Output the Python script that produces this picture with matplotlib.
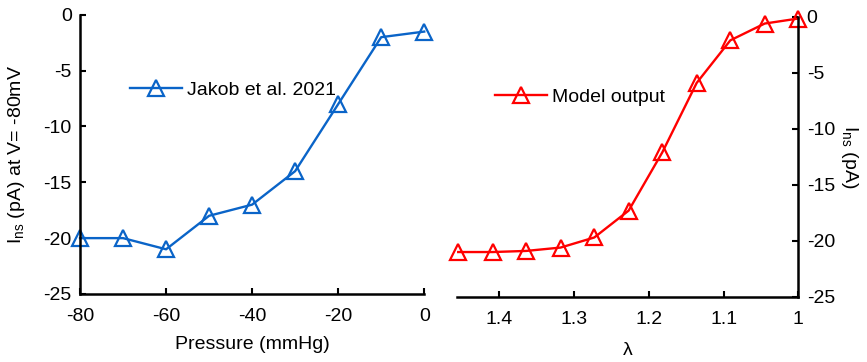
import matplotlib.pyplot as plt

plt.rcParams['font.family'] = ['Liberation Sans', 'DejaVu Sans']
plt.rcParams['font.size'] = 14
plt.rcParams['axes.unicode_minus'] = False
plt.rcParams['mathtext.fontset'] = 'custom'
plt.rcParams['mathtext.rm'] = 'Liberation Sans'
plt.rcParams['mathtext.it'] = 'Liberation Sans:italic'

# measured currents (Jakob et al. 2021)
pressure = [-80, -70, -60, -50, -40, -30, -20, -10, 0]
current_exp = [-20, -20, -21, -18, -17, -14, -8, -2, -1.5]

# model output against stretch ratio
stretch = [1.455, 1.409, 1.364, 1.318, 1.273, 1.227, 1.182, 1.136, 1.091, 1.045, 1.0]
current_model = [-21.0, -21.0, -20.9, -20.6, -19.7, -17.3, -12.1, -5.9, -2.1, -0.6, -0.15]

blue = '#0a64c8'
red = '#ff0000'

fig = plt.figure(figsize=(8.67, 3.62), dpi=100)
ax1 = fig.add_axes([0.0923, 0.188, 0.397, 0.771])
ax2 = fig.add_axes([0.5268, 0.180, 0.394, 0.7735])

line_kw = dict(marker='^', markersize=11, markerfacecolor='none',
               markeredgewidth=1.6, linewidth=1.7, clip_on=False)

ax1.plot(pressure, current_exp, color=blue, label='Jakob et al. 2021', **line_kw)
ax1.set_xlim(-80, 0)
ax1.set_ylim(-25, 0)
ax1.set_xticks([-80, -60, -40, -20, 0])
ax1.set_yticks([-25, -20, -15, -10, -5, 0])
ax1.set_xlabel('Pressure (mmHg)', labelpad=8)
ax1.set_ylabel(r'I$_{\mathrm{ns}}$ (pA) at V= -80mV', labelpad=12)
ax1.spines[['top', 'right']].set_visible(False)
ax1.legend(loc='center left', bbox_to_anchor=(0.145, 0.731), frameon=False,
           handlelength=2.7, handletextpad=0.25, borderaxespad=0, borderpad=0)

ax2.plot(stretch, current_model, color=red, label='Model output', **line_kw)
ax2.set_xlim(1.457, 1.0)
ax2.set_ylim(-25, 0)
ax2.set_xticks([1.4, 1.3, 1.2, 1.1, 1.0])
ax2.set_xticklabels(['1.4', '1.3', '1.2', '1.1', '1'])
ax2.set_yticks([-25, -20, -15, -10, -5, 0])
ax2.yaxis.tick_right()
ax2.yaxis.set_label_position('right')
ax2.set_xlabel('λ', labelpad=10)
ax2.set_ylabel(r'I$_{\mathrm{ns}}$ (pA)', rotation=270, labelpad=18)
ax2.spines[['top', 'left']].set_visible(False)
ax2.legend(loc='center left', bbox_to_anchor=(0.112, 0.713), frameon=False,
           handlelength=2.7, handletextpad=0.25, borderaxespad=0, borderpad=0)

for ax in (ax1, ax2):
    for s in ax.spines.values():
        s.set_linewidth(1.8)
    ax.tick_params(direction='in', length=4, width=1.5)
    ax.tick_params(axis='x', pad=10)
    ax.tick_params(axis='y', pad=6)

fig.savefig('out.png', dpi=100)
